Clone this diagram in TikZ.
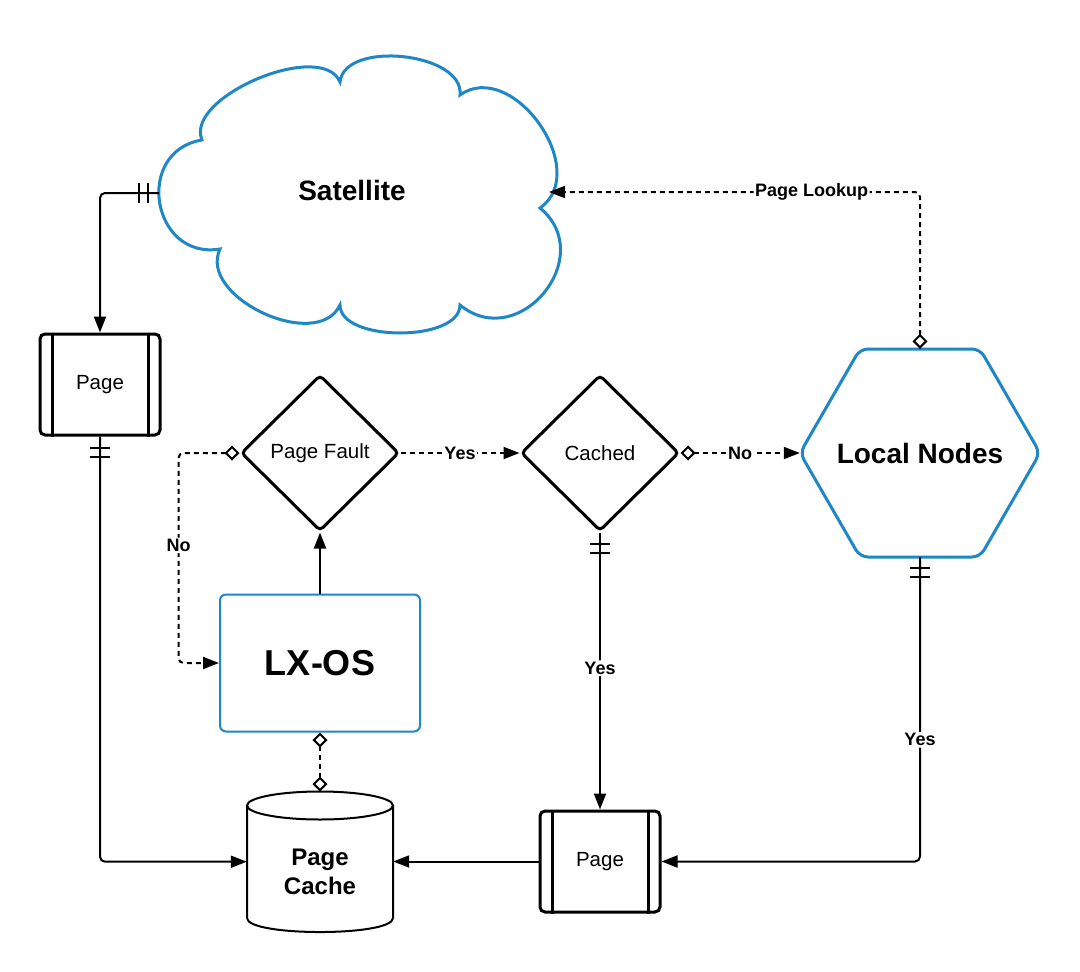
\documentclass[tikz,border=0pt]{standalone}
\usepackage{fontspec}
\setmainfont{Liberation Sans}
\usetikzlibrary{arrows.meta,shapes.geometric,decorations.markings,calc}
\definecolor{lucidblue}{RGB}{31,135,196}
\begin{document}
\begin{tikzpicture}[x=1pt,y=-1pt,
  conn/.style={draw=black,line width=2pt,rounded corners=5pt},
  dconn/.style={conn,dash pattern=on 5pt off 4pt},
  arrowend/.style={-{Triangle[length=16pt,width=12pt]}},
  diaarrow/.style={{Diamond[open,length=15pt,width=15pt]}-{Triangle[length=16pt,width=12pt]}},
  diadia/.style={{Diamond[open,length=15pt,width=15pt]}-{Diamond[open,length=15pt,width=15pt]}},
  bars/.style={postaction={decorate,decoration={markings,
      mark=at position 11pt with {\draw[-,solid,sharp corners,line width=2pt] (0pt,-10pt)--(0pt,10pt);},
      mark=at position 20pt with {\draw[-,solid,sharp corners,line width=2pt] (0pt,-10pt)--(0pt,10pt);}}}},
  lbl/.style={fill=white,inner sep=1.5pt,font=\fontsize{18}{21}\selectfont\bfseries},
  pagebox/.style={draw,line width=3pt,rounded corners=5pt,fill=white,
      minimum width=120pt,minimum height=101pt,inner sep=0pt,
      font=\fontsize{20.5}{24}\selectfont},
  decision/.style={diamond,draw,line width=3pt,rounded corners=4pt,fill=white,
      minimum width=158pt,minimum height=156pt,inner sep=0pt,
      font=\fontsize{20.5}{24}\selectfont},
  hexbox/.style={minimum width=240pt,minimum height=208pt,inner sep=0pt,
      font=\fontsize{28}{32}\selectfont\bfseries},
  hexline/.style={draw=lucidblue,line width=3pt,rounded corners=8pt,fill=white},
  lxbox/.style={draw=lucidblue,line width=2pt,rounded corners=6pt,fill=white,
      minimum width=200pt,minimum height=137pt,inner sep=0pt,
      font=\fontsize{36}{40}\selectfont\bfseries},
  cylbox/.style={minimum width=146pt,minimum height=140pt,inner sep=0pt},
  bigtext/.style={font=\fontsize{28}{32}\selectfont\bfseries},
  cyltext/.style={align=center,font=\fontsize{24}{29}\selectfont\bfseries}
]
\fill[white] (0,0) rectangle (1080,972);
\useasboundingbox (0,0) rectangle (1080,972);

% cloud
\draw[lucidblue,line width=3pt,fill=white,line join=miter]
  (202,140) .. controls (133.6,151.3) and (151.6,260.3) .. (220,249)
  .. controls (197.3,297) and (317.3,353) .. (340,305)
  .. controls (340,342.3) and (460,342.3) .. (460,305)
  .. controls (518.7,353.4) and (598.7,256.4) .. (540,208)
  .. controls (592.3,171) and (512.3,58) .. (460,95)
  .. controls (464.6,52.6) and (344.6,39.6) .. (340,82)
  .. controls (322,39) and (184,97) .. (202,140) -- cycle;
\node[bigtext] (sat) at (352,190) {Satellite};
\coordinate (satL) at (159,193);
\coordinate (satR) at (549,192);

% page boxes
\node[pagebox] (pg1) at (100,384.5) {Page};
\node[pagebox] (pg2) at (600,861.5) {Page};
\foreach \p in {pg1,pg2}{
  \draw[line width=3pt] ([xshift=-48pt]\p.north) -- ([xshift=-48pt]\p.south);
  \draw[line width=3pt] ([xshift=48pt]\p.north) -- ([xshift=48pt]\p.south);
}

% decisions
\node[decision] (pf) at (320,453) {Page Fault};
\node[decision] (ca) at (600,453) {Cached};

% local nodes (hexagon)
\draw[hexline] (800,453) -- (860,349) -- (980,349) -- (1040,453)
  -- (980,557) -- (860,557) -- cycle;
\node[hexbox] (ln) at (920,453) {Local Nodes};

% LX-OS
\node[lxbox] (lx) at (320,663) {LX-OS};

% page cache cylinder
\node[cylbox] (pc) at (320,861.7) {};
\draw[line width=2pt,fill=white] (247,805.5) -- (247,918)
  .. controls (247,936.7) and (393,936.7) .. (393,918) -- (393,805.5);
\draw[line width=2pt,fill=white] (320,805.5) ellipse[x radius=73pt,y radius=14pt];
\node[cyltext] (pct) at (320,872) {Page\\Cache};

% connectors
\draw[conn,arrowend,bars] (satL) -| (pg1.north);
\draw[conn,arrowend,bars] (pg1.south) |- (pc.west);
\draw[conn,arrowend] (lx.north) -- (pf.south);
\draw[dconn,diaarrow] (pf.west) -- ++(-61pt,0pt) |- node[lbl,pos=0.22] {No} (lx.west);
\draw[dconn,arrowend] (pf.east) -- node[lbl] {Yes} (ca.west);
\draw[dconn,diaarrow] (ca.east) -- node[lbl] {No} (ln.west);
\draw[conn,arrowend,bars] (ca.south) -- node[lbl,pos=0.49] {Yes} (pg2.north);
\draw[conn,arrowend,bars] (ln.south) |- node[lbl,pos=0.3] {Yes} (pg2.east);
\draw[dconn,diaarrow] (ln.north) |- node[lbl,pos=0.646] {Page Lookup} (satR);
\draw[dconn,diadia] (lx.south) -- (pc.north);
\draw[conn,arrowend] (pg2.west) -- (pg2.west -| pc.east);
\end{tikzpicture}
\end{document}
